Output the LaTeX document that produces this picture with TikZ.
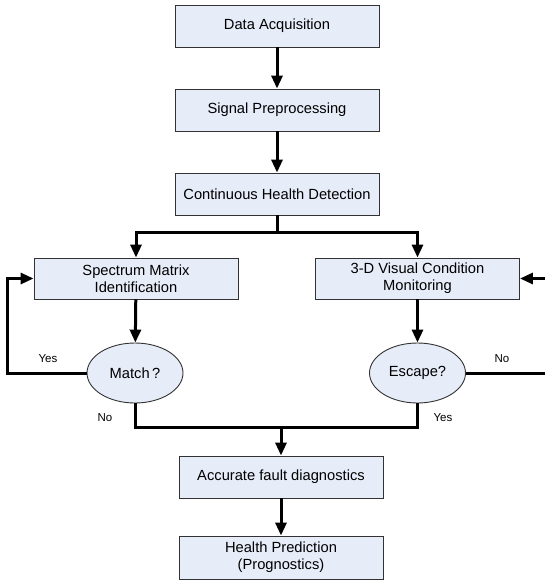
\documentclass[tikz,border=0pt]{standalone}
\usepackage{fontspec}
\setmainfont{Liberation Sans}
\usetikzlibrary{arrows.meta,shapes.geometric}

\definecolor{boxfill}{RGB}{230,236,248}
\definecolor{boxline}{RGB}{50,50,50}

\tikzset{
  stagebox/.style={draw=boxline, line width=0.9pt, fill=boxfill,
    minimum width=204pt, minimum height=42pt, inner sep=0pt, align=center,
    font=\fontsize{14.7}{17}\selectfont},
  decision/.style={ellipse, draw=boxline, line width=0.9pt, fill=boxfill,
    minimum width=96pt, minimum height=60pt, inner sep=0pt,
    font=\fontsize{14.7}{17}\selectfont},
  flow/.style={line width=3pt, draw=black},
  flowarrow/.style={flow, -{Triangle[length=13pt,width=11pt]}},
  branchlabel/.style={font=\fontsize{11.5}{13}\selectfont, inner sep=0pt}
}

\begin{document}
\begin{tikzpicture}[x=1pt,y=-1pt]
  \useasboundingbox (0,0) rectangle (545,581);
  \clip (0,0) rectangle (545,581);

  % main pipeline
  \node[stagebox] (acq)  at (277,26)  {Data Acquisition};
  \node[stagebox] (pre)  at (277,110) {Signal Preprocessing};
  \node[stagebox] (det)  at (277,194) {Continuous Health Detection};

  % two parallel branches
  \node[stagebox, minimum height=41pt] (spec) at (136,278.5) {Spectrum Matrix\\Identification};
  \node[stagebox, minimum height=41pt] (vis)  at (417.5,278.5) {3-D Visual Condition\\Monitoring};
  \node[decision] (match)  at (135,373)   {Match\,?};
  \node[decision] (escape) at (417.5,373) {Escape?};

  % diagnosis and prognosis
  \node[stagebox] (diag) at (281,477) {Accurate fault diagnostics};
  \node[stagebox, minimum height=43pt] (prog) at (281,557.5) {Health Prediction\\(Prognostics)};

  % helper points
  \coordinate (split) at (277,232);
  \coordinate (merge) at (281,427);
  \coordinate (leftloop)  at (7,373);
  \coordinate (rightloop) at (549,373);

  % connectors
  \draw[flowarrow] (acq) -- (pre);
  \draw[flowarrow] (pre) -- (det);
  \draw[flow] (det.south) -- (split);
  \draw[flowarrow] (split) -| (spec.north);
  \draw[flowarrow] (split) -| (vis.north);
  \draw[flowarrow] (spec) -- (match);
  \draw[flowarrow] (vis) -- (escape);
  \draw[flowarrow] (match.west) -- (leftloop) |- (spec.west);
  \draw[flowarrow] (escape.east) -- (rightloop) |- (vis.east);
  \draw[flow] (match.south) |- (merge) -| (escape.south);
  \draw[flowarrow] (merge) -- (diag.north);
  \draw[flowarrow] (diag) -- (prog);

  % branch labels
  \node[branchlabel] (yesL) at (48,359)  {Yes};
  \node[branchlabel] (noR)  at (502,359) {No};
  \node[branchlabel] (noM)  at (105,418) {No};
  \node[branchlabel] (yesE) at (443,418) {Yes};
\end{tikzpicture}
\end{document}
